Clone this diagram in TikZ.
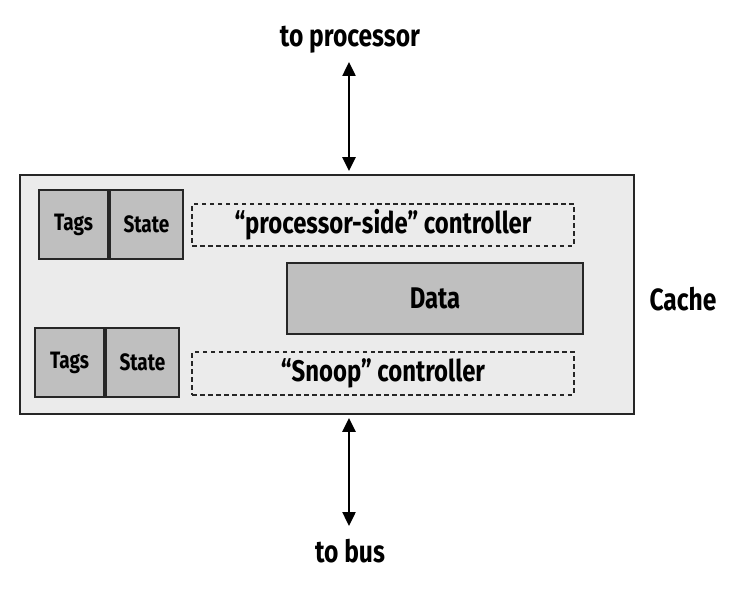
\documentclass[tikz,border=0pt]{standalone}
\usepackage{fontspec}
\setmainfont{Fira Sans}[FakeStretch=0.8]
\usepackage{tikz}
\usetikzlibrary{positioning,arrows.meta}
\definecolor{cachebg}{RGB}{235,235,235}
\definecolor{cellgray}{RGB}{191,191,191}
\tikzset{
  cell/.style={draw=black!85, fill=cellgray, line width=1.1pt, inner sep=0pt,
               font=\bfseries\fontsize{13.5}{16}\selectfont},
  ctlbox/.style={draw=black!85, line width=1.1pt, dash pattern=on 0.09cm off 0.07cm,
               inner sep=0pt, minimum width=7.64cm, font=\bfseries\fontsize{17}{20}\selectfont},
  label/.style={font=\bfseries\fontsize{17.5}{20}\selectfont},
  link/.style={line width=1.4pt, {Triangle[width=0.26cm,length=0.28cm]}-{Triangle[width=0.26cm,length=0.28cm]}}
}
\begin{document}
\begin{tikzpicture}[x=0.02cm, y=-0.02cm]
  \useasboundingbox (0,0) rectangle (749,590);
  % cache body
  \node[draw=black!85, fill=cachebg, line width=1.1pt, minimum width=12.28cm,
        minimum height=4.78cm, inner sep=0pt] (cache) at (327,294.5) {};
  \node[label] (cachelbl) at (683,299) {Cache};
  % tag/state arrays
  \node[cell, minimum width=1.38cm, minimum height=1.38cm] (tagsA) at (73.5,224.5) {Tags};
  \node[cell, minimum width=1.46cm, minimum height=1.38cm, right=0pt of tagsA] (stateA) {State};
  \node[cell, minimum width=1.38cm, minimum height=1.38cm] (tagsB) at (69.5,362.5) {Tags};
  \node[cell, minimum width=1.46cm, minimum height=1.38cm, right=0pt of tagsB] (stateB) {State};
  % controllers and data
  \node[ctlbox, minimum height=0.84cm] (procctl) at (383,225) {``processor-side'' controller};
  \node[cell, minimum width=5.92cm, minimum height=1.42cm,
        font=\bfseries\fontsize{17}{20}\selectfont] (data) at (435,298.5) {Data};
  \node[ctlbox, minimum height=0.86cm] (snoopctl) at (383,373.5) {``Snoop'' controller};
  % outside connections
  \node[label] (proc) at (350,40) {to processor};
  \node[label] (bus) at (350,551) {to bus};
  \coordinate (ptop) at (349,62);
  \coordinate (btop) at (349,526);
  \draw[link] (ptop) -- ([yshift=0.06cm]ptop |- cache.north);
  \draw[link] ([yshift=-0.06cm]btop |- cache.south) -- (btop);
\end{tikzpicture}
\end{document}
